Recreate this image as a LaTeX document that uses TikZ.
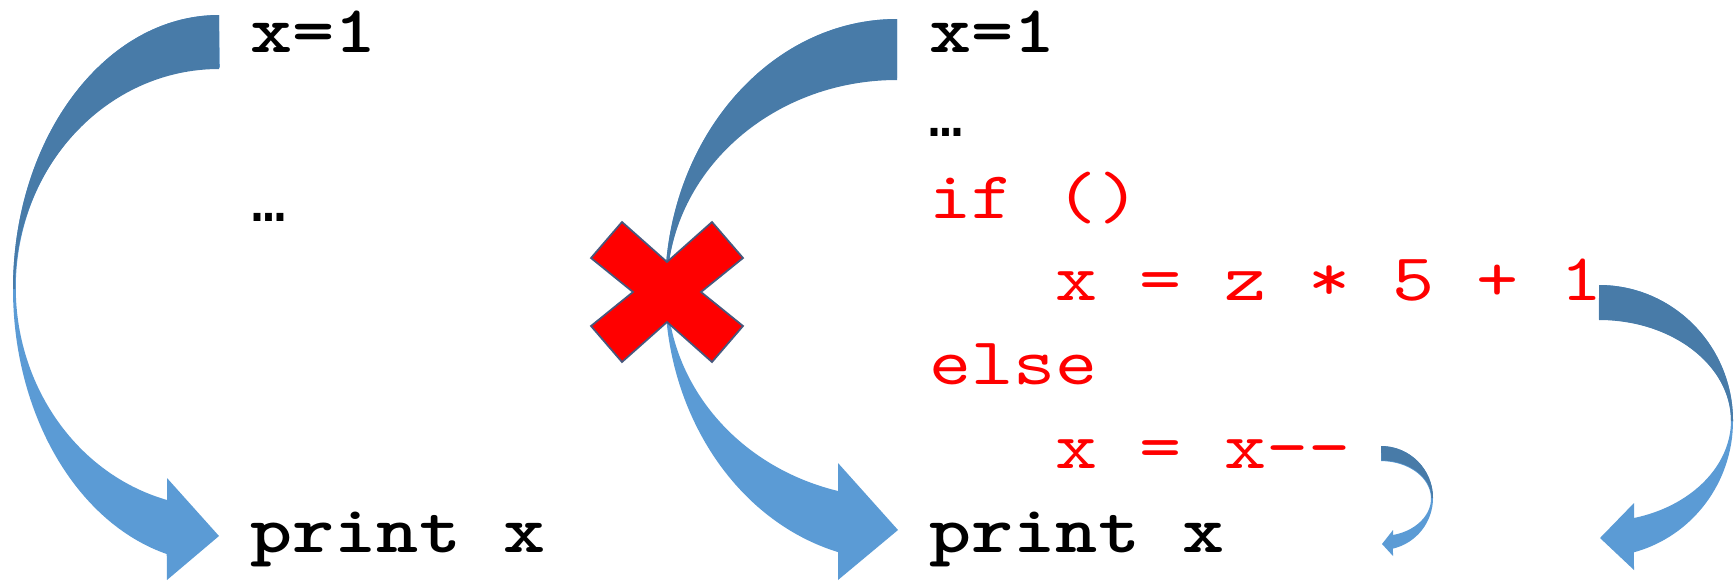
\documentclass[tikz,border=0pt]{standalone}
\usepackage{fontspec}
\setmonofont{lmmono10-regular.otf}[BoldFont=lmmonolt10-bold.otf,FakeStretch=1.2]
\newfontfamily\dotsfont{Liberation Mono}
\usepackage{xcolor}

\definecolor{arrowdark}{RGB}{72,123,168}
\definecolor{arrowlight}{RGB}{91,155,213}
\definecolor{crossline}{RGB}{70,88,125}

\begin{document}
\begin{tikzpicture}[
  x=0.01cm, y=-0.01cm,
  code/.style={anchor=base west,inner sep=0pt,font=\fontsize{19}{24}\selectfont\ttfamily\bfseries},
  redcode/.style={anchor=base west,inner sep=0pt,text=red,font=\fontsize{19}{24}\selectfont\ttfamily},
  dots/.style={anchor=base west,inner sep=0pt,font=\fontsize{15.5}{16}\selectfont\dotsfont\bfseries},
  back/.style={fill=arrowdark},
  front/.style={fill=arrowlight},
  cross/.style={fill=red,draw=crossline,line width=0.5pt,line join=miter}
]
\useasboundingbox (0,0) rectangle (1736,581);

% left: x=1 reaches print x
\fill[front] (219,15) arc[start angle=-90,end angle=-255.3,x radius=206,y radius=274]
  -- (167,580) -- (219,536) -- (167,478) -- (167,500)
  arc[start angle=-255,end angle=-90,x radius=204,y radius=220] -- cycle;
\fill[back] (219,15) arc[start angle=-90,end angle=-180,x radius=206,y radius=274]
  -- ++(2,0) arc[start angle=-180,end angle=-90,x radius=204,y radius=220] -- cycle;

% middle: killed by the branch
\fill[front] (897,19) arc[start angle=-90,end angle=-255.3,x radius=232,y radius=271]
  -- (838,580) -- (898,530) -- (838,463) -- (838,491)
  arc[start angle=-255.1,end angle=-90,x radius=230,y radius=210] -- cycle;
\fill[back] (897,19) arc[start angle=-90,end angle=-180,x radius=232,y radius=271]
  -- ++(2,0) arc[start angle=-180,end angle=-90,x radius=230,y radius=210] -- cycle;
\draw[cross,shift={(667,292)}] (-45,-70) -- (0,-30) -- (45,-70) -- (76,-34) -- (34,0) -- (76,34)
  -- (45,70) -- (0,30) -- (-45,70) -- (-76,34) -- (-34,0) -- (-76,-34) -- cycle;

% right: the two new definitions
\fill[front] (1599,285) arc[start angle=-90,end angle=74.9,x radius=134,y radius=136]
  -- (1634,570) -- (1600,538) -- (1634,503) -- (1634,518)
  arc[start angle=74.6,end angle=-90,x radius=132,y radius=101] -- cycle;
\fill[back] (1599,285) arc[start angle=-90,end angle=0,x radius=134,y radius=136]
  -- ++(-2,0) arc[start angle=0,end angle=-90,x radius=132,y radius=101] -- cycle;
\fill[front] (1381,446) arc[start angle=-90,end angle=76.7,x radius=52,y radius=52]
  -- (1393,556) -- (1382,544) -- (1393,530) -- (1393,535)
  arc[start angle=76.1,end angle=-90,x radius=50,y radius=37.5] -- cycle;
\fill[back] (1381,446) arc[start angle=-90,end angle=0,x radius=52,y radius=52]
  -- ++(-1.5,0) arc[start angle=0,end angle=-90,x radius=50,y radius=37.5] -- cycle;

\node[code] (def1) at (250,52) {x=1};
\node[dots] (gap1) at (252,221) {…};
\node[code] (use1) at (250,552) {print x};

\node[code] (def2) at (929,52) {x=1};
\node[dots] (gap2) at (929,136) {…};
\node[redcode] (cond) at (929,218) {if ()};
\node[redcode] (then) at (1055,300) {x = z * 5 + 1};
\node[redcode] (other) at (929,384) {else};
\node[redcode] (dec) at (1055,468) {x = x-{}-};
\node[code] (use2) at (929,552) {print x};
\end{tikzpicture}
\end{document}
